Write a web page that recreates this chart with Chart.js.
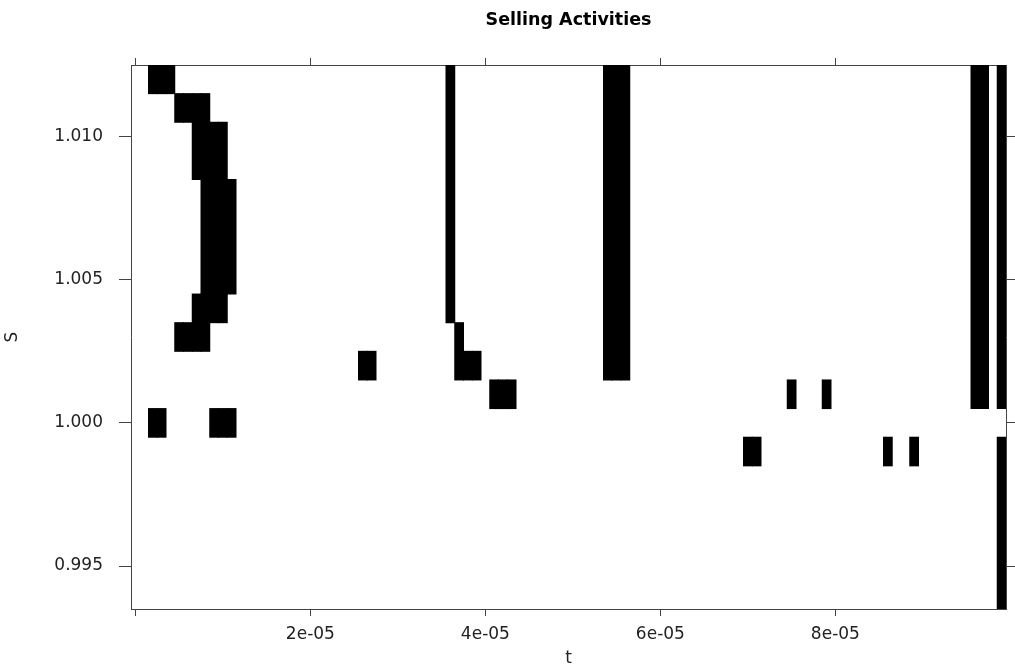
<!DOCTYPE html>
<html>
<head>
<meta charset="utf-8">
<title>Selling Activities</title>
<script src="https://cdn.jsdelivr.net/npm/chart.js@4.4.1/dist/chart.umd.min.js"></script>
<style>
  html, body { margin: 0; padding: 0; background: #fff; }
  #wrap { width: 1015px; height: 671px; position: relative; }
</style>
</head>
<body>
<div id="wrap"><canvas id="plot"></canvas></div>
<script>
// grid cell size of the level plot
const tStep = 1e-6;
const sStep = 0.001;

// black blocks: t range (in units of tStep) and S range (cell centres)
const blockTFrom = [2, 5, 7, 8, 7, 5, 2, 9, 26, 36, 37, 38, 41, 54, 70, 75, 79, 86, 89, 96, 99, 99];
const blockTTo   = [4, 8, 10, 11, 10, 8, 3, 11, 27, 36, 37, 39, 43, 56, 71, 75, 79, 86, 89, 97, 99, 99];
const blockSFrom = [1.012, 1.011, 1.009, 1.005, 1.004, 1.003, 1.000, 1.000, 1.002, 1.004, 1.002, 1.002, 1.001, 1.002, 0.999, 1.001, 1.001, 0.999, 0.999, 1.001, 1.001, 0.994];
const blockSTo   = [1.012, 1.011, 1.010, 1.008, 1.004, 1.003, 1.000, 1.000, 1.002, 1.012, 1.003, 1.002, 1.001, 1.012, 0.999, 1.001, 1.001, 0.999, 0.999, 1.012, 1.012, 0.999];

// axis ticks
const tickT = [0, 2e-5, 4e-5, 6e-5, 8e-5];
const tickS = [0.995, 1.000, 1.005, 1.010];
const tLimits = [-0.5, 99.5];      // in units of tStep
const sLimits = [0.9935, 1.0125];

// one floating bar per column of each block
var cells = [];
for (var b = 0; b < blockTFrom.length; b++) {
  for (var k = blockTFrom[b]; k <= blockTTo[b]; k++) {
    cells.push({ x: k * tStep, y: [blockSFrom[b] - sStep / 2, blockSTo[b] + sStep / 2] });
  }
}

function fmtT(v) {
  if (v === 0) return '';
  var p = v.toExponential(0).split('e');
  var n = parseInt(p[1], 10);
  return p[0] + 'e' + (n < 0 ? '-' : '+') + String(Math.abs(n)).padStart(2, '0');
}

var FONT = 'DejaVu Sans';
var ink = '#222';
var axisCol = '#444';
var titleSize = 17.5, titlePadTop = 10;

function setTicks(list) {
  return function (s) { s.ticks = list.map(function (v) { return { value: v }; }); };
}

new Chart(document.getElementById('plot'), {
  type: 'bar',
  data: {
    datasets: [{
      data: cells,
      backgroundColor: '#000',
      borderWidth: 0,
      inflateAmount: 0.5,
      barPercentage: 1,
      categoryPercentage: 1,
      grouped: false
    }]
  },
  options: {
    responsive: true,
    maintainAspectRatio: false,
    animation: false,
    layout: { padding: 0 },
    plugins: {
      legend: { display: false },
      tooltip: { enabled: false },
      title: {
        display: true,
        fullSize: false,
        text: 'Selling Activities',
        color: '#000',
        font: { family: FONT, size: titleSize, weight: 'bold' },
        padding: { top: titlePadTop, bottom: 0 }
      }
    },
    scales: {
      x: {
        type: 'linear',
        position: 'bottom',
        offset: false,
        min: tLimits[0] * tStep,
        max: tLimits[1] * tStep,
        afterBuildTicks: setTicks(tickT),
        afterFit: function (s) { s.height = 62; },
        border: { display: true, color: axisCol, width: 1 },
        grid: { offset: false, drawOnChartArea: false, drawTicks: true, tickLength: 7, color: axisCol },
        ticks: { callback: function (v) { return fmtT(v); }, color: ink, padding: 8, maxRotation: 0, autoSkip: false, font: { family: FONT, size: 17 } },
        title: { display: true, text: 't', color: ink, font: { family: FONT, size: 17 }, padding: { top: 0, bottom: 2 } }
      },
      x2: {
        type: 'linear',
        position: 'top',
        offset: false,
        min: tLimits[0] * tStep,
        max: tLimits[1] * tStep,
        afterBuildTicks: setTicks(tickT),
        afterFit: function (s) { s.height = 65 - (titlePadTop + titleSize * 1.2); },
        border: { display: true, color: axisCol, width: 1 },
        grid: { offset: false, drawOnChartArea: false, drawTicks: true, tickLength: 7, color: axisCol },
        ticks: { display: false }
      },
      y: {
        type: 'linear',
        position: 'left',
        min: sLimits[0],
        max: sLimits[1],
        afterBuildTicks: setTicks(tickS),
        afterFit: function (s) { s.width = 131; },
        border: { display: true, color: axisCol, width: 1 },
        grid: { drawOnChartArea: false, drawTicks: true, tickLength: 12, color: axisCol },
        ticks: { callback: function (v) { return v.toFixed(3); }, color: ink, padding: 16, font: { family: FONT, size: 17 } },
        title: { display: true, text: 'S', color: ink, font: { family: FONT, size: 17 }, padding: { top: 2, bottom: 0 } }
      },
      y2: {
        type: 'linear',
        position: 'right',
        min: sLimits[0],
        max: sLimits[1],
        afterBuildTicks: setTicks(tickS),
        afterFit: function (s) { s.width = 9; },
        border: { display: true, color: axisCol, width: 1 },
        grid: { drawOnChartArea: false, drawTicks: true, tickLength: 10, color: axisCol },
        ticks: { display: false }
      }
    }
  }
});
</script>
</body>
</html>
